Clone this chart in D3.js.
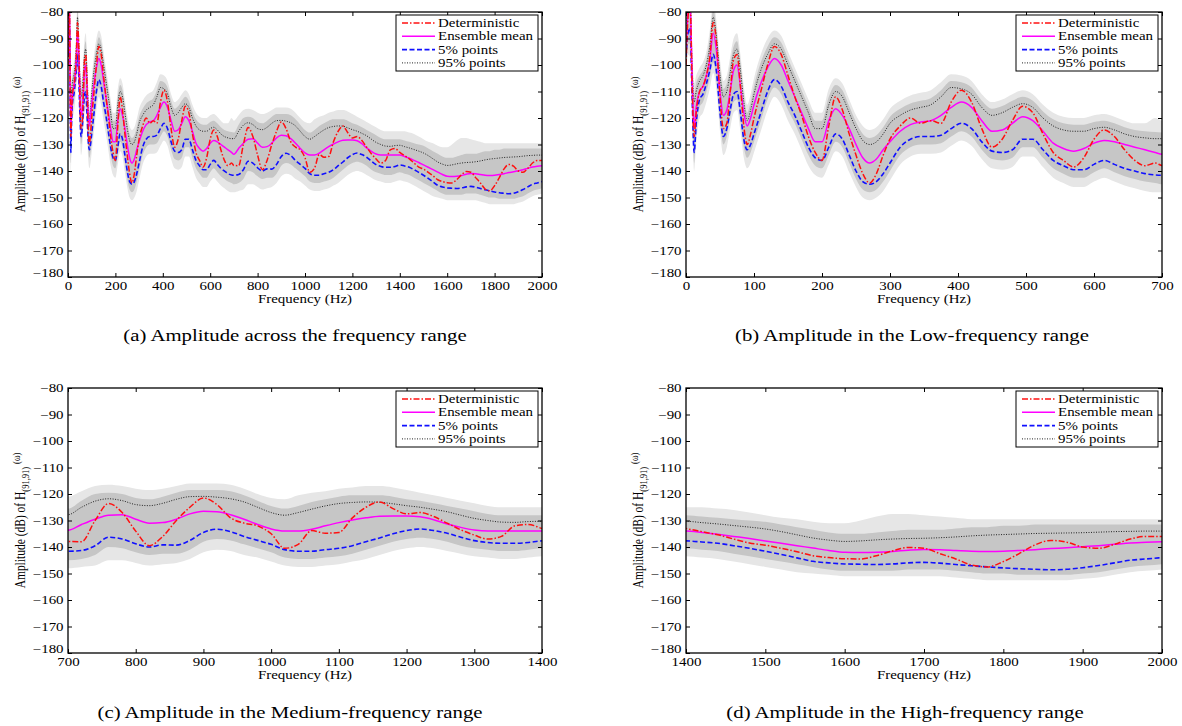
<!DOCTYPE html>
<html>
<head>
<meta charset="utf-8">
<script src="https://cdn.jsdelivr.net/npm/d3@7/dist/d3.min.js"></script>
<style>
  html, body { margin: 0; padding: 0; background: #fff; }
  svg text { font-family: "Liberation Serif", "Times New Roman", serif; fill: #000; }
</style>
</head>
<body>
<svg id="fig" width="1182" height="726"></svg>
<script>
// Frequency grid (Hz): fine below 700 Hz where the resonances are sharp, 20 Hz steps above.
const frequency = [
  0, 3, 6, 9, 12, 15, 20, 25, 30, 35, 40, 45, 50, 55, 60, 65, 70, 75, 80, 85, 90, 95, 100,
  110, 120, 130, 140, 150, 160, 170, 180, 190, 200, 210, 220, 230, 240, 250, 260, 270, 280, 290, 300,
  315, 330, 345, 360, 375, 390, 405, 420, 435, 450, 465, 480, 495, 510, 525, 540, 555, 570, 585, 600, 615, 630, 645, 660, 675, 690,
  700, 720, 740, 760, 780, 800, 820, 840, 860, 880, 900, 920, 940, 960, 980, 1000, 1020, 1040, 1060, 1080,
  1100, 1120, 1140, 1160, 1180, 1200, 1220, 1240, 1260, 1280, 1300, 1320, 1340, 1360, 1380,
  1400, 1420, 1440, 1460, 1480, 1500, 1520, 1540, 1560, 1580, 1600, 1620, 1640, 1660, 1680, 1700,
  1720, 1740, 1760, 1780, 1800, 1820, 1840, 1860, 1880, 1900, 1920, 1940, 1960, 1980, 2000
];

// Amplitude (dB) of the deterministic model
const deterministic = [
  -100, -82, -76, -108, -127, -118, -110, -108, -104, -97, -84, -92, -112, -124, -122, -110, -98, -96, -108, -123, -130, -126, -120,
  -110, -100, -93, -96, -104, -112, -119, -127, -133, -136, -123, -112, -117, -126, -134, -141, -144.5, -141, -134, -128,
  -123, -120, -122, -121, -122, -114, -109.5, -114, -124, -131, -128, -121, -115.6, -118, -126, -133, -136, -138.5, -135, -128, -124.5, -127, -132, -136, -138, -137,
  -137.9, -138, -130, -123.6, -127, -134, -139.5, -136, -130, -125, -121.5, -124, -129, -131, -132, -135, -140.5, -139, -133.8, -134.8,
  -134.5, -129, -125, -123, -125.5, -127.5, -127, -128.5, -131, -133.5, -135.5, -137, -136, -132, -131.5,
  -133, -134.2, -135.4, -137, -138.5, -139.3, -140.5, -141.8, -143.3, -144, -144.4, -144.5, -143.3, -141.5, -140.2, -140.5,
  -142.5, -144.5, -146.8, -147.5, -145.5, -142.5, -139.2, -137.5, -138.2, -140, -140.5, -139, -137, -136, -136
];

// Ensemble mean of the random samples
const ensembleMean = [
  -95, -80, -76, -104, -124, -116, -110, -108, -104, -98, -88, -95, -110, -119, -117, -110, -102, -100, -108, -118, -123, -120, -115,
  -107, -101, -97.5, -100, -106, -112, -118, -124, -129, -129, -121, -116.5, -119, -124, -130, -135, -137, -135.5, -132, -129,
  -125, -122.5, -121.5, -121, -119, -116, -114, -116, -121, -125, -124.5, -122, -119.5, -121, -125, -129.5, -131.5, -132.5, -131.5, -129.5, -128.5, -129, -130, -131, -132, -133,
  -133.7, -131.5, -129.5, -128, -127.8, -129.5, -131, -130.8, -129.5, -127.5, -126.5, -126.7, -127.8, -129.5, -131.5, -133.2, -134, -134, -133.3, -132,
  -130.8, -129.8, -129, -128.4, -128.3, -128.3, -128.6, -129.7, -131.3, -132.6, -133.6, -134, -134, -134, -134,
  -134, -134.5, -135.2, -136, -136.8, -137.7, -138.6, -139.5, -140.4, -141.3, -142, -142.1, -142, -141.7, -141.2, -140.9,
  -141, -141.3, -141.6, -141.7, -141.6, -141.3, -141, -140.6, -140.3, -139.9, -139.5, -139, -138.5, -138.2, -138
];

// 5% points of the ensemble
const p5 = [
  -97, -88, -86, -112, -133, -122, -113, -111, -107, -102, -96, -103, -118, -127, -124, -117, -111, -110, -118, -128, -132, -130, -126,
  -118, -110, -105.5, -108, -114, -119, -125, -131, -135, -136, -131, -126, -128, -134, -140, -144, -145, -144, -141, -137,
  -131, -128, -127, -127, -126.5, -124, -122, -124, -129, -132.5, -133, -132, -128, -128, -132, -136, -138, -139.5, -139.5, -137.5, -136, -137.5, -139, -140, -141, -141.5,
  -141.6, -141.3, -139.5, -136.3, -137, -138.8, -140, -139.2, -139.3, -137.5, -134.5, -133.3, -134.2, -136, -137.5, -139, -141, -141.6, -141.6, -141,
  -140.5, -139.5, -138, -136.6, -135, -133.8, -133.2, -133.8, -134.8, -136.3, -137.6, -138.3, -138.6, -138.6, -138.3,
  -137.7, -138.1, -138.6, -139.5, -140.5, -141.6, -142.8, -144.1, -145.4, -146, -146.4, -146.5, -146.6, -146.4, -146, -145.8,
  -146.1, -146.6, -147.1, -147.5, -147.9, -148.2, -148.4, -148.6, -148.4, -147.8, -147, -146, -145, -144.5, -144
];

// 95% points of the ensemble
const p95 = [
  -92, -76, -74, -100, -114, -110, -106, -104, -100, -93, -82, -90, -104, -112, -110, -103, -96, -94, -102, -114, -121, -117, -111,
  -102, -96, -92, -94, -100, -106, -112, -118, -124, -124, -115, -110, -112, -118, -124, -128.5, -130, -129, -126, -122,
  -119, -117, -116, -115, -112, -108.5, -109, -111, -116, -119, -118, -116, -114.6, -116, -120, -123, -124.5, -125, -125, -124, -123.5, -124.5, -126, -127, -127.5, -127.8,
  -127.8, -125, -122.7, -121.8, -122.5, -124, -124.4, -123.5, -122, -121, -120.9, -121.2, -121.8, -123, -125, -127, -128, -127, -125.7, -124.5,
  -123.6, -123.2, -123, -123.1, -123.7, -124.4, -125, -125.8, -126.7, -128, -129.2, -130, -130.6, -130.7, -130.4,
  -130.3, -130.8, -131.3, -131.9, -132.5, -133.2, -134.2, -135.4, -136.6, -137.4, -137.9, -137.7, -137.3, -137, -136.8, -136.7,
  -136.5, -136.2, -135.8, -135.5, -135.3, -135.1, -134.9, -134.8, -134.7, -134.6, -134.4, -134.2, -134.1, -134, -134
];

// Spread of the ensemble samples: dense core and outer fringe (upper / lower edges)
const coreHigh = [
  -88, -70, -70, -96, -111, -107, -104, -102, -98, -90, -79, -87, -101, -109, -107, -100, -93, -91, -99, -111, -118, -114, -108,
  -99, -93, -89.5, -91.5, -97.5, -103.5, -109.5, -115.5, -121, -121, -112, -107.5, -109.5, -115.5, -121.5, -126, -127.5, -126.5, -123.5, -119.5,
  -116.5, -114.5, -113.5, -112.5, -109.5, -106, -106.5, -108.5, -113.5, -116.5, -115.5, -113.5, -112, -113.5, -117.5, -120.5, -122, -122.5, -122.5, -121.5, -121, -122, -123.5, -124.5, -125, -125.3,
  -125.5, -122.5, -120, -119.5, -120, -121.5, -122, -121, -119.5, -118.5, -118.5, -118.5, -119, -120.5, -122.5, -124.5, -125.5, -124.5, -123, -122,
  -121, -120.5, -120.5, -120.5, -121, -122, -122.5, -123.5, -124.5, -125.5, -126.5, -127.5, -128, -128, -128,
  -128, -128.5, -129, -129.5, -130, -130.5, -131.5, -132.5, -133.5, -134.5, -135, -135, -134.5, -134, -133.5, -133.5,
  -133.5, -133, -132.5, -132.5, -132, -132, -131.5, -131.5, -131.5, -131.5, -131.5, -131.5, -131.5, -131.5, -131.5
];
const coreLow = [
  -100, -92, -92, -118, -137, -126, -116, -114, -110, -105, -99, -106, -121, -130, -127, -120, -114, -113, -121, -131, -135, -133, -129,
  -121, -113, -108.5, -111, -117, -122, -128, -134, -138, -139, -134, -129, -131, -137, -143, -147, -148, -147, -144, -140,
  -134, -131, -130, -130, -129.5, -127, -125, -127, -132, -135.5, -136, -135, -131, -131, -135, -139, -141, -142.5, -142.5, -140.5, -139, -140.5, -142, -143, -144, -144.5,
  -145, -144.5, -143, -140, -140.5, -142, -143, -142.5, -142.5, -141, -138, -137, -137.5, -139, -140.5, -142, -144, -144.5, -144.5, -144,
  -143.5, -142.5, -141, -139.5, -138, -137, -136.5, -137, -138, -139.5, -140.5, -141, -141.5, -141.5, -141,
  -140.5, -141, -141.5, -142.5, -143.5, -144.5, -145.5, -146.5, -147.5, -148.5, -149, -149, -149, -149, -148.5, -148.5,
  -148.5, -149, -149.5, -150, -150, -150.5, -150.5, -150.5, -150.5, -150, -149.5, -148.5, -147.5, -147, -146.5
];
const fringeHigh = [
  -85, -66, -66, -92, -107, -104, -101, -99, -95, -87, -76, -84, -98, -106, -104, -97, -90, -88, -96, -108, -115, -111, -105,
  -96, -90, -87, -89, -95, -101, -107, -113, -118, -118, -109, -105, -107, -113, -119, -123, -124.5, -123.5, -120.5, -116.5,
  -113.5, -111.5, -110.5, -109.5, -106.5, -103.5, -104, -106, -111, -114, -113, -111, -109.5, -111, -115, -118, -119.5, -120, -120, -119, -118.5, -119.5, -121, -122, -122, -120,
  -121, -119, -117, -116.5, -117, -118, -118.5, -118, -117, -116, -116, -116, -116.5, -118, -120, -121.5, -122, -120.5, -119.5, -119,
  -118, -117.5, -117, -117, -117.5, -118.5, -119.5, -120.5, -121.5, -122.5, -123.5, -124.5, -125, -125, -125,
  -125, -125, -125.5, -126, -127, -128, -129, -129.5, -130.5, -131, -131, -130, -128.5, -127.5, -127.5, -128,
  -128.5, -129, -129.5, -129.5, -129.5, -129.5, -129.5, -129.5, -129.5, -129.5, -129.5, -129.5, -129.5, -129.5, -129.5
];
const fringeLow = [
  -104, -96, -97, -122, -140, -130, -120, -118, -114, -109, -103, -110, -125, -134, -131, -124, -118, -117, -125, -135, -139, -137, -133,
  -125, -117, -112, -115, -121, -126, -132, -138, -141.5, -142.5, -137.5, -132.5, -134.5, -140.5, -146, -150, -151, -150, -147.5, -143.5,
  -137.5, -134.5, -133.5, -133.5, -133, -130.5, -128.5, -130.5, -135.5, -139, -139.5, -138.5, -134.5, -134.5, -138.5, -142.5, -144.5, -146, -146, -144, -142.5, -144, -145.5, -146.5, -147.5, -148,
  -148, -147.5, -147, -145, -145, -146, -147, -146.5, -146, -144.5, -142, -141, -141.5, -143, -144, -145.5, -147, -147.5, -147.5, -147,
  -146.5, -145.5, -144.5, -143, -141.5, -140.5, -140, -140.5, -141.5, -142.5, -143.5, -144, -144.5, -144.5, -144,
  -143.5, -144, -144.5, -145.5, -146.5, -147.5, -148.5, -149.5, -150, -150.5, -151, -151, -151, -151, -151, -151,
  -151, -151.5, -152, -152.5, -152.5, -152.5, -152.5, -152.5, -152.5, -152, -151.5, -150.5, -149.5, -149, -148.5
];

// Axis ticks
const yTicks = [-180, -170, -160, -150, -140, -130, -120, -110, -100, -90, -80];
const xTicksA = [0, 200, 400, 600, 800, 1000, 1200, 1400, 1600, 1800, 2000];
const xTicksB = [0, 100, 200, 300, 400, 500, 600, 700];
const xTicksC = [700, 800, 900, 1000, 1100, 1200, 1300, 1400];
const xTicksD = [1400, 1500, 1600, 1700, 1800, 1900, 2000];

const legendLabels = ["Deterministic", "Ensemble mean", "5% points", "95% points"];
const captions = [
  "(a)  Amplitude across the frequency range",
  "(b)  Amplitude in the Low-frequency range",
  "(c)  Amplitude in the Medium-frequency range",
  "(d)  Amplitude in the High-frequency range"
];

// ---------------------------------------------------------------------------
const SX = 1.3;        // horizontal stretch of the serif lettering
const FS = 11.5;       // base font size
const svg = d3.select("#fig");

const seriesStyles = [
  { key: "det",  values: deterministic, color: "#ff1010", width: 1.5, dash: "6,2,1.5,2" },
  { key: "mean", values: ensembleMean,  color: "#ff00ff", width: 1.5, dash: null },
  { key: "p5",   values: p5,            color: "#1010ff", width: 1.6, dash: "5,2.5" },
  { key: "p95",  values: p95,           color: "#222222", width: 1.0, dash: "1,1.5" }
];

const panels = [
  { left: 68,  top: 12,  width: 474, height: 265, domain: [0, 2000],    ticks: xTicksA, caption: captions[0], capX: 295, capY: 341 },
  { left: 686, top: 12,  width: 476, height: 265, domain: [0, 700],     ticks: xTicksB, caption: captions[1], capX: 912, capY: 341 },
  { left: 68,  top: 388, width: 474, height: 265, domain: [700, 1400],  ticks: xTicksC, caption: captions[2], capX: 290, capY: 718 },
  { left: 686, top: 388, width: 476, height: 265, domain: [1400, 2000], ticks: xTicksD, caption: captions[3], capX: 905, capY: 718 }
];

const rows = frequency.map((f, i) => ({
  f,
  det: deterministic[i], mean: ensembleMean[i], p5: p5[i], p95: p95[i],
  cHi: coreHigh[i], cLo: coreLow[i], fHi: fringeHigh[i], fLo: fringeLow[i]
}));

function stretchedText(parent, x, y, str, size, anchor) {
  return parent.append("text")
    .attr("transform", `translate(${x},${y}) scale(${SX},1)`)
    .attr("font-size", size)
    .attr("text-anchor", anchor || "start")
    .text(str);
}

panels.forEach((p, pi) => {
  const g = svg.append("g").attr("transform", `translate(${p.left},${p.top})`);
  const x = d3.scaleLinear().domain(p.domain).range([0, p.width]);
  const y = d3.scaleLinear().domain([-180, -80]).range([p.height, 0]);

  const clipId = `clip-${pi}`;
  g.append("clipPath").attr("id", clipId)
    .append("rect").attr("width", p.width).attr("height", p.height);

  // rows inside the panel's frequency window plus one neighbour on each side
  const lo = d3.max(rows.filter(r => r.f <= p.domain[0]), r => r.f);
  const hi = d3.min(rows.filter(r => r.f >= p.domain[1]), r => r.f);
  const iLo = Math.max(0, rows.findIndex(r => r.f === lo) - 1);
  const iHi = Math.min(rows.length - 1, rows.findIndex(r => r.f === hi) + 1);
  const data = rows.slice(iLo, iHi + 1);

  const plot = g.append("g").attr("clip-path", `url(#${clipId})`);

  const curve = d3.curveMonotoneX;
  plot.append("path").datum(data)
    .attr("fill", "#e6e6e6")
    .attr("d", d3.area().curve(curve).x(d => x(d.f)).y0(d => y(d.fLo)).y1(d => y(d.fHi)));
  plot.append("path").datum(data)
    .attr("fill", "#c6c6c6")
    .attr("d", d3.area().curve(curve).x(d => x(d.f)).y0(d => y(d.cLo)).y1(d => y(d.cHi)));

  // draw order: 95% dotted, 5% dashed, mean, deterministic on top
  [seriesStyles[3], seriesStyles[2], seriesStyles[1], seriesStyles[0]].forEach(s => {
    plot.append("path").datum(data)
      .attr("fill", "none")
      .attr("stroke", s.color)
      .attr("stroke-width", s.width)
      .attr("stroke-dasharray", s.dash)
      .attr("d", d3.line().curve(curve).x(d => x(d.f)).y(d => y(d[s.key])));
  });

  // axes with inward ticks on all four sides
  const gx = g.append("g").attr("transform", `translate(0,${p.height})`)
    .call(d3.axisBottom(x).tickValues(p.ticks).tickSizeInner(-4).tickSizeOuter(0).tickPadding(4.5).tickFormat(d3.format("d")));
  gx.selectAll("text").attr("font-size", FS).attr("transform", `scale(${SX},1)`);
  g.append("g")
    .call(d3.axisTop(x).tickValues(p.ticks).tickSizeInner(-4).tickSizeOuter(0).tickFormat(""));
  const gy = g.append("g")
    .call(d3.axisLeft(y).tickValues(yTicks).tickSizeInner(-4).tickSizeOuter(0).tickPadding(3.4).tickFormat(d3.format("d")));
  gy.selectAll("text").attr("font-size", FS).attr("transform", `scale(${SX},1)`);
  // lift the lowest value label slightly so it clears the first frequency label
  gy.selectAll(".tick text").filter(d => d === -180).attr("y", -4);
  g.append("g").attr("transform", `translate(${p.width},0)`)
    .call(d3.axisRight(y).tickValues(yTicks).tickSizeInner(-4).tickSizeOuter(0).tickFormat(""));
  g.selectAll(".domain").remove();
  g.selectAll(".tick line").attr("stroke", "#000").attr("stroke-width", 1);
  g.append("rect").attr("width", p.width).attr("height", p.height)
    .attr("fill", "none").attr("stroke", "#000").attr("stroke-width", 1.3);

  // axis titles
  stretchedText(g, p.width / 2, p.height + 25.5, "Frequency (Hz)", FS, "middle");
  const yl = g.append("text")
    .attr("transform", `translate(-43,${p.height / 2}) scale(${SX},1) rotate(-90)`)
    .attr("font-size", FS)
    .attr("text-anchor", "middle");
  yl.append("tspan").text("Amplitude (dB) of H");
  yl.append("tspan").attr("font-size", 8.5).attr("dy", 3).text("(91,91)");
  yl.append("tspan").attr("font-size", 8.5).attr("dy", -7).attr("dx", 3).text("(\u03c9)");

  // legend
  const lw = 142, lh = 56;
  const lg = g.append("g").attr("transform", `translate(${p.width - lw - 4},${3})`);
  lg.append("rect").attr("width", lw).attr("height", lh)
    .attr("fill", "#fff").attr("stroke", "#000").attr("stroke-width", 1);
  seriesStyles.forEach((s, i) => {
    const cy = 8 + i * 13.3;
    lg.append("line").attr("x1", 6).attr("x2", 39).attr("y1", cy).attr("y2", cy)
      .attr("stroke", s.color).attr("stroke-width", s.width).attr("stroke-dasharray", s.dash);
    stretchedText(lg, 42, cy + 4, legendLabels[i], FS, "start");
  });

  // caption
  stretchedText(svg, p.capX, p.capY, p.caption, 16, "middle");
});
</script>
</body>
</html>
